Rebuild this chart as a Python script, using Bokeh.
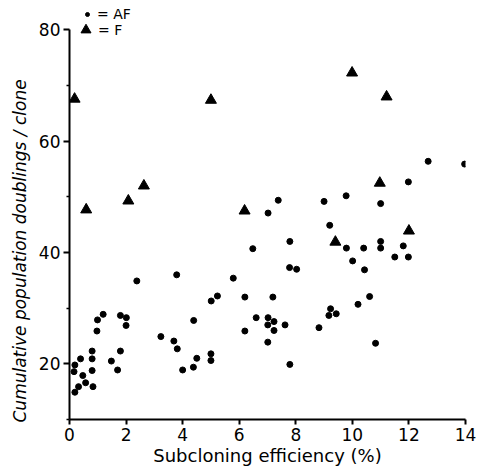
from bokeh.plotting import figure
from bokeh.models import Range1d, FixedTicker, Legend, LegendItem, Title
from bokeh.embed import file_html
from bokeh.resources import INLINE

# AF clones (dots): subcloning efficiency (%) vs cumulative population doublings/clone
af_x = [0.19, 0.16, 0.39, 0.47, 0.32, 0.19, 0.57, 0.80, 0.80, 0.80, 0.83, 0.97, 0.99, 1.19,
        1.48, 1.70, 1.80, 1.80, 2.01, 2.00, 2.38, 3.23, 3.69, 3.81, 4.00, 4.39, 4.38, 4.50,
        3.79, 5.00, 5.00, 5.01, 5.23, 5.79, 6.20, 7.19, 6.20, 6.60, 7.02, 7.01, 7.23, 7.23,
        7.01, 7.62, 7.79, 8.82, 9.23, 9.17, 9.43, 10.20, 10.61, 10.82, 7.38, 7.02, 9.00, 9.20,
        7.79, 6.48, 7.78, 8.03, 12.68, 13.97, 11.98, 9.78, 11.00, 9.79, 10.40, 11.00, 11.00,
        11.80, 11.50, 11.98, 10.01, 10.43]
af_y = [19.8, 18.6, 20.9, 17.9, 15.9, 14.9, 16.6, 22.3, 20.9, 18.8, 15.9, 25.9, 27.9, 28.9,
        20.5, 18.9, 22.3, 28.7, 28.3, 26.9, 34.9, 24.9, 24.1, 22.7, 18.9, 27.8, 19.4, 21.0,
        36.0, 21.8, 20.6, 31.3, 32.2, 35.4, 32.0, 32.0, 25.9, 28.3, 28.3, 27.0, 27.6, 26.0,
        23.9, 27.0, 19.9, 26.5, 29.9, 28.7, 29.0, 30.7, 32.1, 23.7, 49.4, 47.1, 49.2, 44.9,
        42.0, 40.7, 37.3, 37.0, 56.4, 55.9, 52.7, 50.2, 48.8, 40.8, 40.8, 42.0, 40.8,
        41.2, 39.2, 39.2, 38.5, 36.9]

# F clones (triangles)
f_x = [0.18, 5.00, 0.59, 2.08, 2.63, 9.99, 11.21, 6.19, 10.97, 12.00, 9.40]
f_y = [67.6, 67.4, 47.7, 49.3, 52.0, 72.3, 68.0, 47.5, 52.5, 43.9, 41.9]

x_ticks = [0, 2, 4, 6, 8, 10, 12, 14]
y_ticks = [20, 40, 60, 80]
y_minor = [10, 30, 50, 70]
y_axis_span = (10, 80)

x_title = "Subcloning efficiency (%)"
y_title = "Cumulative population doublings / clone"
legend_af = "= AF"
legend_f = "= F"

FONT = "DejaVu Sans"

p = figure(width=477, height=471, output_backend="svg", toolbar_location=None,
           x_range=Range1d(0, 14), y_range=Range1d(10, 85.3),
           min_border_left=69, min_border_right=12, min_border_top=0, min_border_bottom=52)
p.outline_line_color = None
p.xgrid.visible = False
p.ygrid.visible = False
p.background_fill_color = "white"
p.border_fill_color = "white"

p.xaxis.ticker = FixedTicker(ticks=x_ticks, minor_ticks=[])
p.yaxis.ticker = FixedTicker(ticks=y_ticks, minor_ticks=y_minor)
p.yaxis.bounds = y_axis_span
for ax in (p.xaxis, p.yaxis):
    ax.axis_line_width = 2
    ax.axis_line_color = "black"
    ax.major_tick_line_width = 2
    ax.major_tick_line_color = "black"
    ax.minor_tick_line_width = 1.5
    ax.minor_tick_line_color = "black"
    ax.major_tick_in = 0
    ax.minor_tick_in = 0
    ax.major_label_text_font = FONT
    ax.major_label_text_font_size = "17px"
    ax.major_label_text_color = "black"
    ax.major_label_standoff = 3
p.xaxis.major_tick_out = 5
p.xaxis.minor_tick_out = 0
p.yaxis.major_tick_out = 6
p.yaxis.minor_tick_out = 3

p.xaxis.axis_label = x_title
p.xaxis.axis_label_text_font = FONT
p.xaxis.axis_label_text_font_size = "18px"
p.xaxis.axis_label_text_font_style = "normal"
p.xaxis.axis_label_text_color = "black"
p.xaxis.axis_label_standoff = 1

p.add_layout(Title(text=y_title, align="left", offset=-3, standoff=12,
                   text_font=FONT, text_font_size="17px", text_font_style="italic",
                   text_color="black"), "left")

r_af = p.scatter(af_x, af_y, marker="circle", size=6, fill_color="black", line_color="black")
r_f = p.scatter(f_x, f_y, marker="triangle", size=11, fill_color="black", line_color="black")

leg_af = Legend(items=[LegendItem(label=legend_af, renderers=[r_af])],
                location=(13, 397), glyph_width=10, glyph_height=10, label_standoff=5,
                label_text_font=FONT, label_text_font_size="14px", label_text_color="black",
                padding=0, margin=0, spacing=0, border_line_color=None,
                background_fill_alpha=0)
leg_f = Legend(items=[LegendItem(label=legend_f, renderers=[r_f])],
               location=(4, 377), glyph_width=25, glyph_height=25, label_standoff=0,
               label_text_font=FONT, label_text_font_size="14px", label_text_color="black",
               padding=0, margin=0, spacing=0, border_line_color=None,
               background_fill_alpha=0)
p.add_layout(leg_af)
p.add_layout(leg_f)

open("out.html", "w").write(file_html(p, INLINE))
